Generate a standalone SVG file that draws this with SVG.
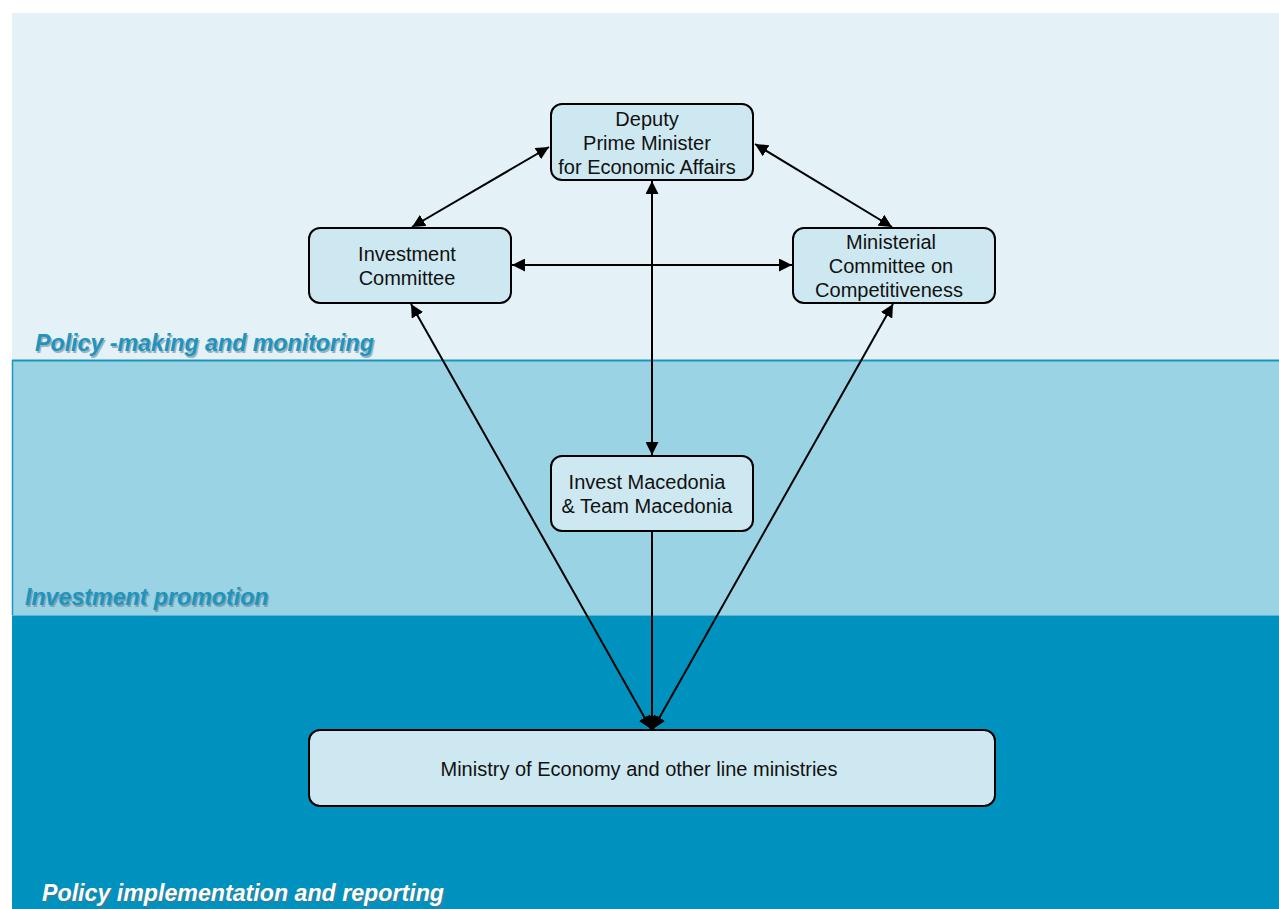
<svg xmlns="http://www.w3.org/2000/svg" width="1279" height="909" viewBox="0 0 1279 909">
<style>
.node rect{fill:#CDE8F0;stroke:#000;stroke-width:2}
.node text{font-family:"Liberation Sans",Arial,sans-serif;font-size:20px;fill:#111;text-anchor:middle}
.conn line{stroke:#000;stroke-width:2;fill:none}
.band{font-family:"Liberation Sans",Arial,sans-serif;font-size:23.2px;font-weight:bold;font-style:italic}
.sh{fill:#5d7480;opacity:0.5}
</style>
<defs>
<marker id="ah" viewBox="0 0 10 10" refX="10" refY="5" markerWidth="6.5" markerHeight="6.5" orient="auto-start-reverse" markerUnits="strokeWidth">
<path d="M0,0 L10,5 L0,10 z" fill="#000"/>
</marker>
</defs>
<rect x="0" y="0" width="1279" height="909" fill="#fff"/>
<rect x="12" y="13" width="1267" height="347" fill="#E4F2F7"/>
<rect x="12" y="360" width="1267" height="255" fill="#9AD3E3"/>
<line x1="12" y1="360.5" x2="1279" y2="360.5" stroke="#1A97C0" stroke-width="2"/>
<line x1="12.5" y1="360" x2="12.5" y2="615" stroke="#1A97C0" stroke-width="1.5"/>
<rect x="12" y="615" width="1267" height="294" fill="#0092BE"/>
<line x1="12" y1="615.5" x2="1279" y2="615.5" stroke="#5AB6D2" stroke-width="1"/>

<text class="band sh" x="36.5" y="352.5">Policy -making and monitoring</text>
<text class="band" x="35" y="351" fill="#1E94BE">Policy -making and monitoring</text>
<text class="band sh" x="26.5" y="606.5">Investment promotion</text>
<text class="band" x="25" y="605" fill="#1E94BE">Investment promotion</text>
<text class="band sh" x="43.5" y="902.5">Policy implementation and reporting</text>
<text class="band" x="42" y="901" fill="#fff">Policy implementation and reporting</text>

<g class="conn">
<line x1="549" y1="147" x2="412" y2="227" marker-start="url(#ah)" marker-end="url(#ah)"/>
<line x1="755" y1="144" x2="892" y2="227" marker-start="url(#ah)" marker-end="url(#ah)"/>
<line x1="512" y1="265" x2="792" y2="265" marker-start="url(#ah)" marker-end="url(#ah)"/>
<line x1="652" y1="181" x2="652" y2="455" marker-start="url(#ah)" marker-end="url(#ah)"/>
<line x1="652" y1="532" x2="652" y2="729" marker-end="url(#ah)"/>
<line x1="411" y1="304" x2="651" y2="729" marker-start="url(#ah)" marker-end="url(#ah)"/>
<line x1="893" y1="304" x2="653" y2="729" marker-start="url(#ah)" marker-end="url(#ah)"/>
</g>

<g id="deputy" class="node">
<rect x="551" y="104" width="202" height="76" rx="11"/>
<text x="647" y="126">Deputy</text>
<text x="647" y="150">Prime Minister</text>
<text x="647" y="174">for Economic Affairs</text>
</g>
<g id="investment-committee" class="node">
<rect x="309" y="228" width="202" height="75" rx="11"/>
<text x="407" y="261">Investment</text>
<text x="407" y="285">Committee</text>
</g>
<g id="ministerial-committee" class="node">
<rect x="793" y="228" width="202" height="75" rx="11"/>
<text x="891" y="249">Ministerial</text>
<text x="891" y="273">Committee on</text>
<text x="889" y="297">Competitiveness</text>
</g>
<g id="invest-macedonia" class="node">
<rect x="551" y="456" width="202" height="75" rx="11"/>
<text x="647" y="489">Invest Macedonia</text>
<text x="647" y="513">&amp; Team Macedonia</text>
</g>
<g id="ministry" class="node">
<rect x="309" y="730" width="686" height="76" rx="11"/>
<text x="639" y="776" textLength="397" lengthAdjust="spacingAndGlyphs">Ministry of Economy and other line ministries</text>
</g>
</svg>
